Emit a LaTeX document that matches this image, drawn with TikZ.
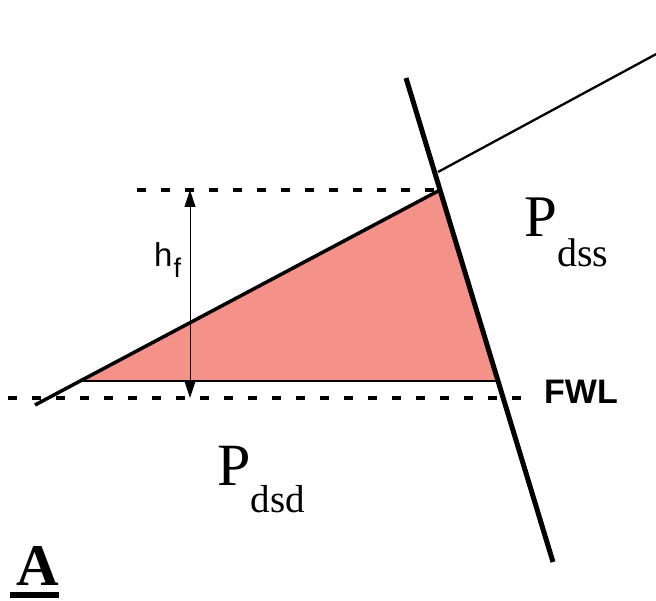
\documentclass[tikz,border=0pt]{standalone}
\usepackage{fontspec}
\setmainfont{Liberation Serif}
\setsansfont{Liberation Sans}
\usetikzlibrary{arrows.meta}
\definecolor{salmon}{HTML}{F4928A}
\tikzset{
  wall/.style={line width=5pt},
  slope/.style={line width=3.5pt},
  thinline/.style={line width=2.3pt},
  dashline/.style={line width=4pt, dash pattern=on 9pt off 15pt},
  dimarrow/.style={line width=1pt, {Triangle[width=11pt,length=17pt]}-{Triangle[width=11pt,length=17pt]}},
  lbl/.style={inner sep=0pt, anchor=base west}
}
\begin{document}
\begin{tikzpicture}[x=1pt,y=-1pt]
\useasboundingbox (0,0) rectangle (656,601);
% coordinates
\coordinate (wt) at (406,78);
\coordinate (wb) at (553,562);
\coordinate (apex) at (440,190);
\coordinate (toe) at (83,381);
\coordinate (foot) at (498,381);
\coordinate (slopeend) at (35,405);
\coordinate (thinstart) at (438,172);
\coordinate (thinend) at (660,52);
\coordinate (d1a) at (137,190);
\coordinate (d2a) at (8,398);
\coordinate (d2b) at (532,398);
\coordinate (ha) at (190,190);
\coordinate (hb) at (190,398);
% fill
\fill[salmon] (toe) -- (apex) -- (foot) -- cycle;
\draw[line width=1.2pt] (toe) -- (foot);
% dashed lines
\draw[dashline] (d1a) -- (apex);
\draw[dashline] (d2a) -- (d2b);
% dimension arrow
\draw[dimarrow] (ha) -- (hb);
% slope
\draw[slope] (slopeend) -- (apex);
% thin line
\draw[thinline] (thinstart) -- (thinend);
% wall
\draw[wall] (wt) -- (wb);
% labels
\node[lbl] (hf) at (154,267) {\sffamily\fontsize{33}{33}\selectfont h\kern1pt\raisebox{-11pt}{\fontsize{27}{27}\selectfont f}};
\node[lbl] (fwl) at (544,404) {\sffamily\bfseries\fontsize{34}{34}\selectfont FWL};
\node[lbl] (pdss) at (524,237) {\fontsize{59}{59}\selectfont P\raisebox{-30pt}{\fontsize{40}{40}\selectfont dss}};
\node[lbl] (pdsd) at (217,485) {\fontsize{60}{60}\selectfont P\raisebox{-28pt}{\fontsize{39}{39}\selectfont dsd}};
\node[lbl] (A) at (16,585) {\bfseries\fontsize{59}{59}\selectfont A};
\draw[line width=6pt] (10,595) -- (59,595);
\end{tikzpicture}
\end{document}
